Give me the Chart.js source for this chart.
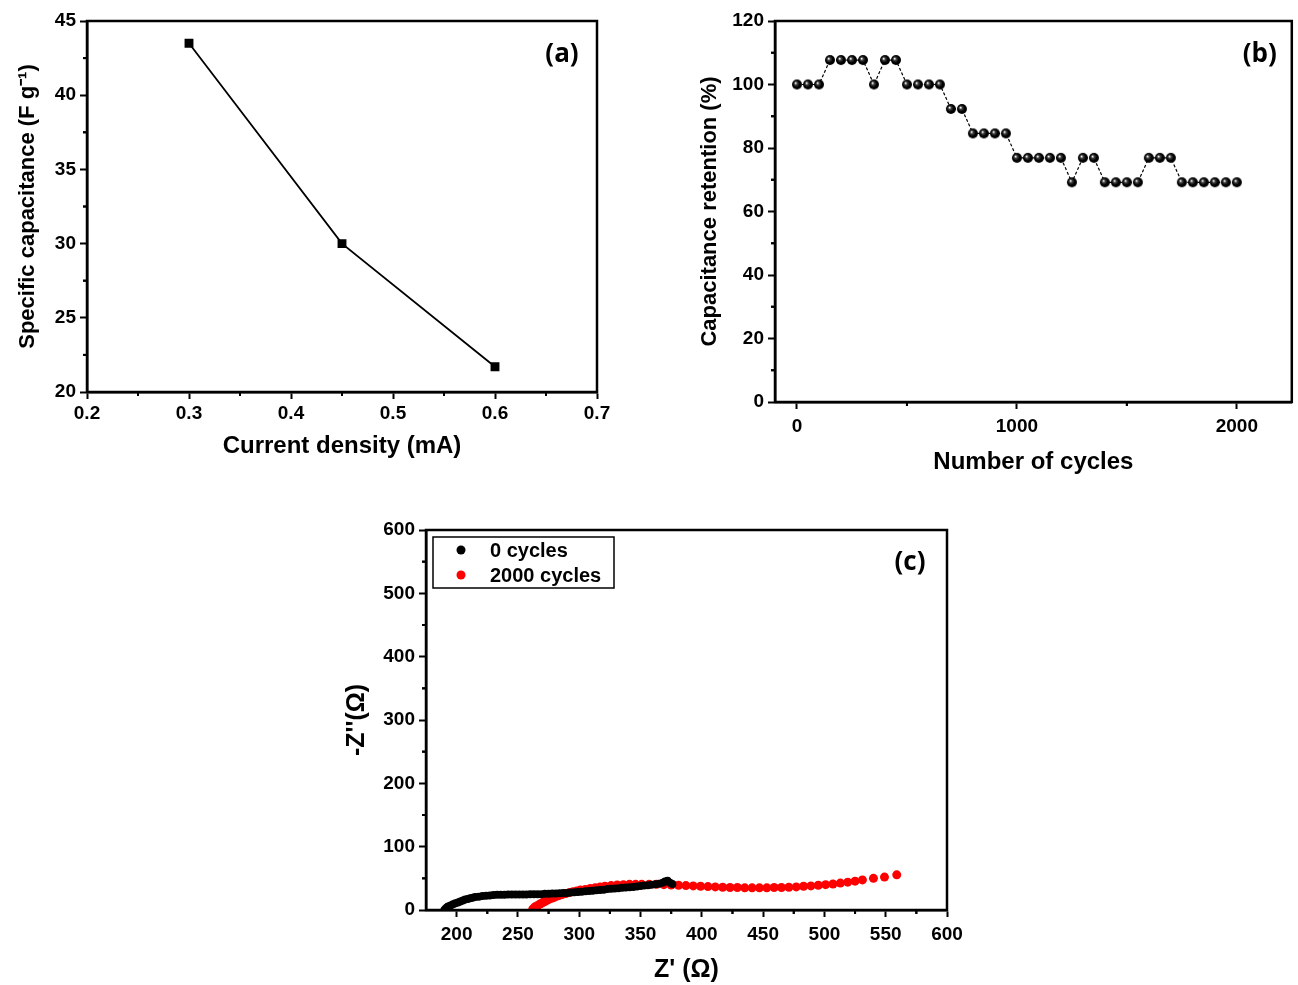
<!DOCTYPE html>
<html>
<head>
<meta charset="utf-8">
<script src="https://cdn.jsdelivr.net/npm/chart.js@4"></script>
<style>
  body { margin: 0; background: #fff; }
  #page { position: relative; width: 1298px; height: 985px; }
  canvas { position: absolute; }
</style>
</head>
<body>
<div id="page">
  <canvas id="chartA" width="620" height="470" style="left:0;top:0"></canvas>
  <canvas id="chartB" width="608" height="480" style="left:690px;top:0"></canvas>
  <canvas id="chartC" width="640" height="485" style="left:340px;top:500px"></canvas>
</div>
<script>
// (a) specific capacitance vs current density
const currentDensity = [0.3, 0.45, 0.6];
const specificCap = [43.5, 30, 21.7];
const aTicksX = [0.2, 0.3, 0.4, 0.5, 0.6, 0.7];
const aTicksY = [20, 25, 30, 35, 40, 45];

// (b) retention over cycling
const cycles = [0, 50, 100, 150, 200, 250, 300, 350, 400, 450, 500, 550, 600, 650, 700, 750, 800, 850, 900, 950,
  1000, 1050, 1100, 1150, 1200, 1250, 1300, 1350, 1400, 1450, 1500, 1550, 1600, 1650, 1700, 1750, 1800, 1850, 1900, 1950, 2000];
const retention = [100, 100, 100, 107.7, 107.7, 107.7, 107.7, 100, 107.7, 107.7, 100, 100, 100, 100, 92.3, 92.3, 84.6, 84.6, 84.6, 84.6,
  76.9, 76.9, 76.9, 76.9, 76.9, 69.2, 76.9, 76.9, 69.2, 69.2, 69.2, 69.2, 76.9, 76.9, 76.9, 69.2, 69.2, 69.2, 69.2, 69.2, 69.2];
const bTicksX = [0, 1000, 2000];
const bTicksY = [0, 20, 40, 60, 80, 100, 120];

// (c) Nyquist plots
const zRe0 = [190, 191, 192, 193, 195, 197, 199, 201, 203, 205, 207, 209, 211, 213, 215, 218, 221, 224, 227, 230,
  233, 236, 239, 242, 245, 248, 251, 254, 257, 260, 263, 266, 269, 272, 275, 278, 281, 284, 287, 290,
  293, 296, 299, 302, 305, 308, 311, 314, 317, 320, 323, 326, 329, 332, 335, 338, 341, 344, 347, 350,
  353, 356, 359, 362, 365, 368, 370, 372, 374, 376];
const zIm0 = [0, 2, 4, 5.5, 7, 9, 10.5, 12, 13.5, 15, 16.5, 17.5, 18.5, 19.5, 20.5, 21, 22, 22.5, 23, 23.5,
  24, 24, 24, 24.5, 24.5, 24.5, 24.5, 24.5, 24.5, 25, 25, 25, 25, 25.5, 25.5, 26, 26, 26.5, 27, 27,
  27.5, 28, 28.5, 29, 29.5, 30, 30.5, 31, 31.5, 32, 33, 33.5, 34, 34.5, 35, 35.5, 36, 36.5, 37, 38,
  38.5, 39, 40, 40.5, 41.5, 43, 45, 46, 43, 41];
const zRe2000 = [262, 263, 264, 266, 268, 270, 272, 274, 276, 278, 280, 283, 286, 289, 292, 295, 298, 301, 305, 309,
  313, 317, 321, 326, 331, 336, 341, 346, 351, 357, 363, 369, 375, 381, 387, 393, 399, 405, 411, 417,
  423, 429, 435, 441, 447, 453, 459, 465, 471, 477, 483, 489, 495, 501, 507, 513, 519, 525, 531, 540, 549, 559];
const zIm2000 = [1, 3, 5, 7, 9.5, 11.5, 13.5, 15.5, 17.5, 19, 20.5, 22.5, 24.5, 26, 27.5, 29, 30, 31.5, 32.5, 34,
  35, 36.5, 37.5, 38.5, 39.5, 40, 40.5, 40.5, 40.5, 40.5, 40.5, 40, 39.5, 39, 38.5, 38, 37.5, 37, 36.5, 36,
  35.5, 35.5, 35, 35, 35, 35, 35.5, 35.5, 36, 36.5, 37.5, 38, 39, 40, 41, 42.5, 44, 45.5, 47.5, 50, 52, 55.5];
const cTicksX = [200, 250, 300, 350, 400, 450, 500, 550, 600];
const cTicksY = [0, 100, 200, 300, 400, 500, 600];

Chart.defaults.font.family = "'Liberation Sans', Arial, sans-serif";
Chart.defaults.color = '#000';

const toPoints = (xs, ys) => xs.map((x, i) => ({ x: x, y: ys[i] }));

// shaded ball marker used in panel (b)
function ballMarker(r) {
  const c = document.createElement('canvas');
  c.width = c.height = 2 * r + 2;
  const g = c.getContext('2d');
  const grd = g.createRadialGradient(r - 0.5, r - 0.5, 0.3, r + 1, r + 1, r + 1);
  grd.addColorStop(0, '#ffffff');
  grd.addColorStop(0.22, '#444');
  grd.addColorStop(0.55, '#000');
  grd.addColorStop(1, '#000');
  g.fillStyle = grd;
  g.beginPath();
  g.arc(r + 1, r + 1, r, 0, Math.PI * 2);
  g.fill();
  return c;
}

// box frame, short minor ticks, panel letter and an inset legend
const framePlugin = {
  id: 'frame',
  afterDraw(chart, args, opts) {
    const { ctx, chartArea: a } = chart;
    ctx.save();
    ctx.strokeStyle = '#000';
    ctx.lineWidth = 2;
    ['x', 'y'].forEach(id => {
      const s = chart.scales[id];
      const t = s.ticks.map(k => k.value);
      const step = t[1] - t[0];
      t.forEach(v0 => {
        [v0 - step / 2, v0 + step / 2].forEach(v => {
          if (v <= s.min || v >= s.max) return;
          const p = s.getPixelForValue(v);
          ctx.beginPath();
          if (id === 'x') { ctx.moveTo(p, a.bottom); ctx.lineTo(p, a.bottom + 4); }
          else { ctx.moveTo(a.left, p); ctx.lineTo(a.left - 4, p); }
          ctx.stroke();
        });
      });
    });
    ctx.lineWidth = 2.5;
    ctx.strokeRect(a.left, a.top, a.right - a.left, a.bottom - a.top);

    ctx.fillStyle = '#000';
    ctx.font = "bold 26px 'Open Sans', sans-serif";
    ctx.textAlign = 'center';
    ctx.textBaseline = 'middle';
    ctx.fillText(opts.label, a.right - opts.dx, a.top + opts.dy);

    if (opts.legend) {
      const L = opts.legend;
      ctx.lineWidth = 1.5;
      ctx.strokeRect(a.left + L.x, a.top + L.y, L.w, L.h);
      ctx.font = "bold 20px 'Liberation Sans', Arial, sans-serif";
      ctx.textAlign = 'left';
      chart.data.datasets.forEach((ds, i) => {
        const yy = a.top + L.y + 13 + i * 25;
        ctx.fillStyle = ds.backgroundColor;
        ctx.beginPath();
        ctx.arc(a.left + L.x + 28, yy, 4.5, 0, Math.PI * 2);
        ctx.fill();
        ctx.fillStyle = '#000';
        ctx.fillText(ds.label, a.left + L.x + 57, yy + 1);
      });
    }
    ctx.restore();
  }
};

function axis(opts) {
  return {
    type: 'linear',
    min: opts.min,
    max: opts.max,
    afterFit: s => { if (opts.width) s.width = opts.width; if (opts.height) s.height = opts.height; },
    afterBuildTicks: s => { s.ticks = opts.ticks.map(v => ({ value: v })); },
    border: { color: '#000', width: 2.5 },
    grid: { drawOnChartArea: false, drawTicks: true, tickLength: 7, tickWidth: 2, tickColor: '#000' },
    ticks: { padding: opts.tpad || 4, color: '#000', autoSkip: false, maxRotation: 0,
      callback: v => String(v),
      font: { size: 19, weight: 'bold' } },
    title: { display: true, text: opts.title, color: '#000', padding: opts.titlePad,
      font: { size: opts.titleSize || 22, weight: 'bold' } }
  };
}

const common = {
  responsive: false,
  animation: false,
  events: [],
  plugins: { legend: { display: false }, tooltip: { enabled: false } }
};

new Chart(document.getElementById('chartA'), {
  type: 'scatter',
  data: {
    datasets: [{
      data: toPoints(currentDensity, specificCap),
      showLine: true,
      borderColor: '#000',
      borderWidth: 1.8,
      backgroundColor: '#000',
      pointStyle: 'rect',
      pointRadius: 5
    }]
  },
  options: Object.assign({}, common, {
    layout: { padding: { top: 21, right: 23, left: 0, bottom: 0 } },
    scales: {
      x: axis({ min: 0.2, max: 0.7, ticks: aTicksX, height: 78, title: 'Current density (mA)', titleSize: 24, titlePad: { top: 0, bottom: 9 }, tpad: 3 }),
      y: axis({ min: 20, max: 45, ticks: aTicksY, width: 87, title: 'Specific capacitance (F g\u207B\u00B9)', titlePad: { top: 15, bottom: 0 } })
    },
    plugins: Object.assign({}, common.plugins, { frame: { label: '(a)', dx: 35, dy: 34 } })
  }),
  plugins: [framePlugin]
});

new Chart(document.getElementById('chartB'), {
  type: 'scatter',
  data: {
    datasets: [{
      data: toPoints(cycles, retention),
      showLine: true,
      borderColor: '#000',
      borderWidth: 1.2,
      borderDash: [3, 2],
      pointStyle: ballMarker(5),
      pointRadius: 5
    }]
  },
  options: Object.assign({}, common, {
    layout: { padding: { top: 21, right: 2, left: 0, bottom: 0 } },
    scales: {
      x: axis({ min: -100, max: 2250, ticks: bTicksX, height: 78, title: 'Number of cycles', titleSize: 24, titlePad: { top: 0, bottom: 3 }, tpad: 6 }),
      y: axis({ min: 0, max: 120, ticks: bTicksY, width: 85, title: 'Capacitance retention (%)', titlePad: { top: 7, bottom: 0 } })
    },
    plugins: Object.assign({}, common.plugins, { frame: { label: '(b)', dx: 32, dy: 34 } })
  }),
  plugins: [framePlugin]
});

new Chart(document.getElementById('chartC'), {
  type: 'scatter',
  data: {
    datasets: [
      { label: '0 cycles', data: toPoints(zRe0, zIm0), backgroundColor: '#000', borderColor: '#000',
        borderWidth: 0, pointRadius: 4 },
      { label: '2000 cycles', data: toPoints(zRe2000, zIm2000), backgroundColor: '#ff0000', borderColor: '#ff0000',
        borderWidth: 0, pointRadius: 4.5 }
    ]
  },
  options: Object.assign({}, common, {
    layout: { padding: { top: 30, right: 33, left: 0, bottom: 0 } },
    scales: {
      x: axis({ min: 175, max: 600, ticks: cTicksX, height: 75, title: "Z' (\u03A9)", titleSize: 25, titlePad: { top: 0, bottom: 0 }, tpad: 6 }),
      y: axis({ min: 0, max: 600, ticks: cTicksY, width: 86, title: "-Z''(\u03A9)", titleSize: 25, titlePad: { top: 2, bottom: 0 } })
    },
    plugins: Object.assign({}, common.plugins, {
      frame: { label: '(c)', dx: 37, dy: 33, legend: { x: 7, y: 7, w: 181, h: 51 } }
    })
  }),
  plugins: [framePlugin]
});
</script>
</body>
</html>
